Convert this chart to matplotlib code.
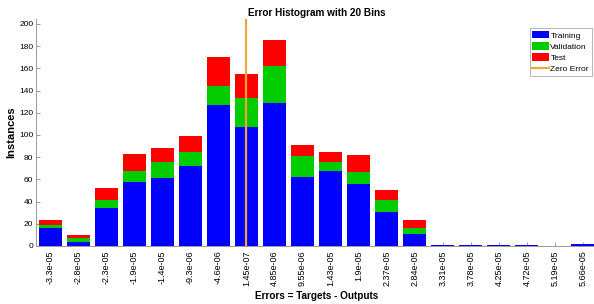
from matplotlib import pyplot as plt
import numpy as np

plt.rcParams['font.family'] = ['Liberation Sans Narrow', 'Liberation Sans', 'DejaVu Sans']

bin_labels = ['-3.3e-05', '-2.8e-05', '-2.3e-05', '-1.9e-05', '-1.4e-05',
              '-9.3e-06', '-4.6e-06', '1.45e-07', '4.85e-06', '9.55e-06',
              '1.43e-05', '1.9e-05', '2.37e-05', '2.84e-05', '3.31e-05',
              '3.78e-05', '4.25e-05', '4.72e-05', '5.19e-05', '5.66e-05']
training = [16, 4, 34, 58, 61, 72, 127, 107, 129, 62, 68, 56, 31, 11, 1, 1, 1, 1, 0, 2]
validation = [3, 3, 7, 10, 15, 13, 17, 26, 33, 19, 8, 11, 10, 5, 0, 0, 0, 0, 0, 0]
test = [4, 3, 11, 15, 12, 14, 26, 22, 24, 10, 9, 15, 9, 7, 0, 0, 0, 0, 0, 0]

blue = '#0000ff'
green = '#00cc00'
red = '#ff0000'
orange = '#efa53a'

fig = plt.figure(figsize=(5.94, 3.04), dpi=100)
ax = fig.add_axes([36 / 594, 1 - 246 / 304, 561 / 594, 227 / 304])

x = np.arange(len(bin_labels))
tr = np.array(training)
va = np.array(validation)
te = np.array(test)
w = 0.82
b1 = ax.bar(x, tr, width=w, color=blue, label='Training', zorder=2)
b2 = ax.bar(x, va, width=w, bottom=tr, color=green, label='Validation', zorder=2)
b3 = ax.bar(x, te, width=w, bottom=tr + va, color=red, label='Test', zorder=2)

# zero error position between bin centres
centers = np.array([float(s) for s in bin_labels])
zero_pos = np.interp(0.0, centers, x)
zl = ax.axvline(zero_pos, color=orange, lw=1.6, label='Zero Error', zorder=3)

ax.set_xlim(-0.5, len(bin_labels) - 0.5)
ax.set_ylim(0, 204.5)
ax.set_yticks(np.arange(0, 201, 20))
ax.set_xticks(x)
ax.set_xticklabels(bin_labels, rotation=90)
ax.set_axisbelow(True)
ax.tick_params(direction='in', length=3, width=0.6, color='#888888', pad=2)
ax.tick_params(axis='x', labelsize=6.5, pad=3)
ax.tick_params(axis='y', labelsize=6)
for s in ['top', 'right']:
    ax.spines[s].set_visible(False)
for s in ['left', 'bottom']:
    ax.spines[s].set_color('#999999')
    ax.spines[s].set_linewidth(0.7)

ax.set_title('Error Histogram with 20 Bins', fontsize=7.2, fontweight='bold', pad=2)
ax.set_xlabel('Errors = Targets - Outputs', fontsize=7.2, fontweight='bold', labelpad=4)
ax.set_ylabel('Instances', fontsize=8, fontweight='bold', labelpad=2)

leg = ax.legend(handles=[b1, b2, b3, zl], loc='upper right',
                bbox_to_anchor=(0.991, 0.96), fontsize=6, fancybox=False,
                framealpha=1, edgecolor='#aaaaaa', handlelength=2.0,
                handleheight=1.0, borderpad=0.35, labelspacing=0.3,
                handletextpad=0.15, borderaxespad=0)
leg.get_frame().set_linewidth(0.6)

plt.savefig('out.png', dpi=100)
